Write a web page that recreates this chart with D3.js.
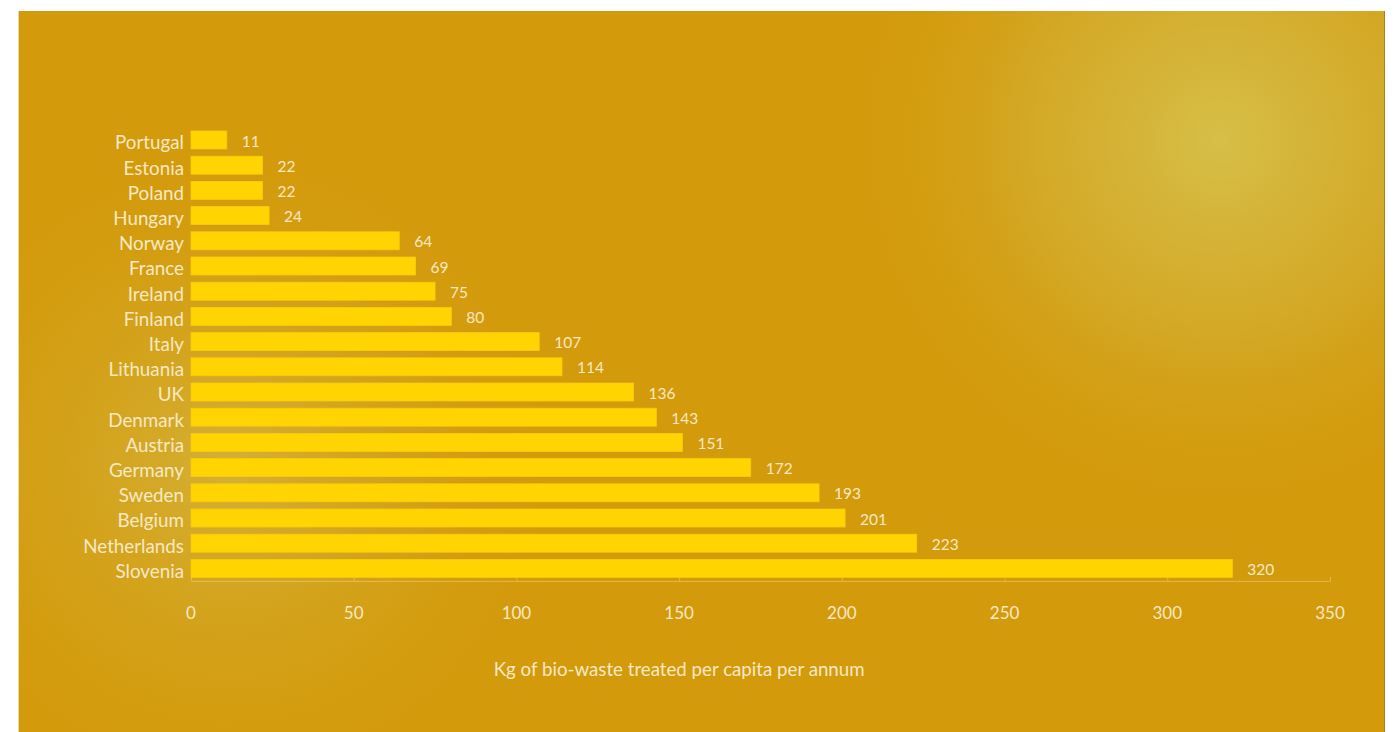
<!DOCTYPE html>
<html>
<head>
<meta charset="utf-8">
<script src="https://cdn.jsdelivr.net/npm/d3@7"></script>
<style>
  body { margin: 0; background: #fff; }
  svg { display: block; }
  text { font-family: Lato, "Open Sans", sans-serif; fill: #f6e9c4; font-weight: 400; }
</style>
</head>
<body>
<div id="chart"></div>
<script>
// data
var countries = ["Portugal", "Estonia", "Poland", "Hungary", "Norway", "France", "Ireland",
    "Finland", "Italy", "Lithuania", "UK", "Denmark", "Austria", "Germany", "Sweden",
    "Belgium", "Netherlands", "Slovenia"];
var values = [11, 22, 22, 24, 64, 69, 75, 80, 107, 114, 136, 143, 151, 172, 193, 201, 223, 320];
var xTicks = [0, 50, 100, 150, 200, 250, 300, 350];
var xTitle = "Kg of bio-waste treated per capita per annum";

function barChart() {
    var W = 1397, H = 732;
    var panel = { x: 18, y: 11, w: 1367, h: 721 };
    var margin = { top: 131, left: 191, right: 67 };
    var width = W - margin.left - margin.right;   // 0..350 -> 191..1330
    var height = 446.4;                            // first bar top to last bar bottom

    var svg = d3.select("#chart")
        .append("svg")
        .attr("width", W)
        .attr("height", H);

    var defs = svg.append("defs");

    // glow top right
    var g1 = defs.append("radialGradient").attr("id", "glow1")
        .attr("gradientUnits", "userSpaceOnUse")
        .attr("cx", 1220).attr("cy", 140).attr("r", 400);
    g1.append("stop").attr("offset", "0%").attr("stop-color", "#d6bf48").attr("stop-opacity", 1);
    g1.append("stop").attr("offset", "45%").attr("stop-color", "#d4ae30").attr("stop-opacity", 0.8);
    g1.append("stop").attr("offset", "100%").attr("stop-color", "#d39a0b").attr("stop-opacity", 0);

    // glow bottom left
    var g2 = defs.append("radialGradient").attr("id", "glow2")
        .attr("gradientUnits", "userSpaceOnUse")
        .attr("cx", 230).attr("cy", 470).attr("r", 360);
    g2.append("stop").attr("offset", "0%").attr("stop-color", "#d5b23a").attr("stop-opacity", 0.9);
    g2.append("stop").attr("offset", "50%").attr("stop-color", "#d4a825").attr("stop-opacity", 0.5);
    g2.append("stop").attr("offset", "100%").attr("stop-color", "#d39a0b").attr("stop-opacity", 0);

    svg.append("rect")
        .attr("x", panel.x).attr("y", panel.y)
        .attr("width", panel.w).attr("height", panel.h)
        .style("fill", "#d39a0b");
    svg.append("rect")
        .attr("x", panel.x).attr("y", panel.y)
        .attr("width", panel.w).attr("height", panel.h)
        .style("fill", "url(#glow2)");
    svg.append("rect")
        .attr("x", panel.x).attr("y", panel.y)
        .attr("width", panel.w).attr("height", panel.h)
        .style("fill", "url(#glow1)");
    svg.append("line")
        .attr("x1", panel.x + 0.5).attr("x2", panel.x + 0.5)
        .attr("y1", panel.y).attr("y2", panel.y + panel.h)
        .style("stroke", "#ecd9a0");
    svg.append("line")
        .attr("x1", panel.x + panel.w - 0.5).attr("x2", panel.x + panel.w - 0.5)
        .attr("y1", panel.y).attr("y2", panel.y + panel.h)
        .style("stroke", "#a88418");

    var g = svg.append("g")
        .attr("transform", "translate(" + margin.left + "," + margin.top + ")");

    var x = d3.scaleLinear().domain([0, 350]).range([0, width]);
    var y = d3.scaleBand().domain(countries).range([0, height]).paddingInner(0.286).paddingOuter(0);

    // baseline with upward ticks
    var baseY = y("Slovenia") + y.bandwidth() + 3.5;
    var axis = g.append("g")
        .attr("transform", "translate(0," + baseY + ")")
        .call(d3.axisTop(x).tickValues(xTicks).tickSize(4).tickSizeOuter(0).tickFormat(""));
    axis.select(".domain").style("stroke", "rgba(255,240,190,0.35)");
    axis.selectAll(".tick line").style("stroke", "rgba(255,240,190,0.35)");

    // tick labels
    g.selectAll(".xlabel")
        .data(xTicks)
        .enter().append("text")
        .attr("class", "xlabel")
        .attr("x", function (d) { return x(d); })
        .attr("y", 488)
        .style("text-anchor", "middle")
        .style("font-size", "17px")
        .text(function (d) { return d; });

    // bars
    g.selectAll(".bar")
        .data(values)
        .enter().append("rect")
        .attr("class", "bar")
        .attr("x", 0)
        .attr("y", function (d, i) { return y(countries[i]); })
        .attr("width", function (d) { return x(d); })
        .attr("height", y.bandwidth())
        .style("fill", "#ffd400")
        .style("stroke", "#f5cc10")
        .style("stroke-width", 0.8);

    // value labels
    g.selectAll(".val")
        .data(values)
        .enter().append("text")
        .attr("class", "val")
        .attr("x", function (d) { return x(d) + 15; })
        .attr("y", function (d, i) { return y(countries[i]) + y.bandwidth() / 2; })
        .attr("dy", "0.42em")
        .style("font-size", "15.5px")
        .text(function (d) { return d; });

    // category labels
    g.selectAll(".cat")
        .data(countries)
        .enter().append("text")
        .attr("class", "cat")
        .attr("x", -7)
        .attr("y", function (d) { return y(d) + y.bandwidth() / 2; })
        .attr("dy", "0.5em")
        .style("text-anchor", "end")
        .style("font-size", "18.8px")
        .text(function (d) { return d; });

    // axis title
    g.append("text")
        .attr("x", x(150))
        .attr("y", 545)
        .style("text-anchor", "middle")
        .style("font-size", "18.7px")
        .text(xTitle);
}

window.onload = barChart;
</script>
</body>
</html>
